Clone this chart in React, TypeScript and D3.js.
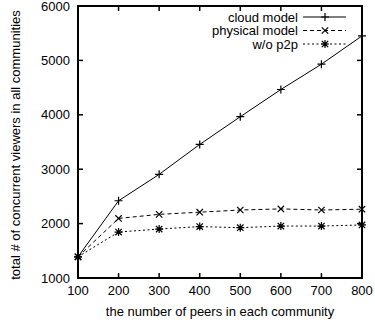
import React from "react";
import * as d3 from "d3";

const peers = [100, 200, 300, 400, 500, 600, 700, 800];
const cloudModel = [1390, 2420, 2905, 3455, 3965, 4465, 4930, 5450];
const physicalModel = [1390, 2095, 2170, 2210, 2250, 2270, 2250, 2265];
const withoutP2P = [1390, 1845, 1900, 1945, 1925, 1955, 1955, 1975];
const xTicks = [100, 200, 300, 400, 500, 600, 700, 800];
const yTicks = [1000, 2000, 3000, 4000, 5000, 6000];

const W = 375, H = 326;
const m = { left: 78, right: 13, top: 6, bottom: 48 };
const FONT = "'Liberation Sans', Arial, Helvetica, sans-serif";

type Marker = "plus" | "cross" | "star";

function markerPath(t: Marker, cx: number, cy: number, s = 4): string {
  const plus = `M${cx - s},${cy}H${cx + s}M${cx},${cy - s}V${cy + s}`;
  const cross = `M${cx - s * 0.8},${cy - s * 0.8}L${cx + s * 0.8},${cy + s * 0.8}M${cx - s * 0.8},${cy + s * 0.8}L${cx + s * 0.8},${cy - s * 0.8}`;
  if (t === "plus") return plus;
  if (t === "cross") return cross;
  return plus + cross;
}

export default function App() {
  const x = d3.scaleLinear().domain([100, 800]).range([m.left, W - m.right]);
  const y = d3.scaleLinear().domain([1000, 6000]).range([H - m.bottom, m.top]);
  const line = d3
    .line<[number, number]>()
    .x((d) => x(d[0]))
    .y((d) => y(d[1]));

  const series: { name: string; vals: number[]; dash: string | undefined; marker: Marker }[] = [
    { name: "cloud model", vals: cloudModel, dash: undefined, marker: "plus" },
    { name: "physical model", vals: physicalModel, dash: "4,3", marker: "cross" },
    { name: "w/o p2p", vals: withoutP2P, dash: "2,2.5", marker: "star" },
  ];

  const x0 = m.left, x1 = W - m.right, y0 = H - m.bottom, y1 = m.top;
  const tick = 5;

  return (
    <svg width={W} height={H} style={{ position: "absolute", left: 0, top: 0, background: "#fff" }} fontFamily={FONT}>
      <rect x={0} y={0} width={W} height={H} fill="#fff" />
      {/* ticks */}
      {xTicks.map((t) => (
        <g key={"xt" + t}>
          <line x1={x(t)} x2={x(t)} y1={y0} y2={y0 - tick} stroke="#000" strokeWidth={1.5} />
          <line x1={x(t)} x2={x(t)} y1={y1} y2={y1 + tick} stroke="#000" strokeWidth={1.5} />
          <text x={x(t)} y={y0 + 17} fontSize={13} textAnchor="middle" fill="#000">
            {t}
          </text>
        </g>
      ))}
      {yTicks.map((t) => (
        <g key={"yt" + t}>
          <line x1={x0} x2={x0 + tick} y1={y(t)} y2={y(t)} stroke="#000" strokeWidth={1.5} />
          <line x1={x1} x2={x1 - tick} y1={y(t)} y2={y(t)} stroke="#000" strokeWidth={1.5} />
          <text x={x0 - 8} y={y(t)} dy="0.35em" fontSize={13} textAnchor="end" fill="#000">
            {t}
          </text>
        </g>
      ))}
      {/* series */}
      {series.map((s) => {
        const pts = peers.map((p, i) => [p, s.vals[i]] as [number, number]);
        return (
          <g key={s.name}>
            <path d={line(pts) || ""} fill="none" stroke="#000" strokeWidth={1} strokeDasharray={s.dash} />
            {pts.map((p, i) => (
              <path key={i} d={markerPath(s.marker, x(p[0]), y(p[1]))} stroke="#000" strokeWidth={1.2} fill="none" />
            ))}
          </g>
        );
      })}
      {/* frame */}
      <rect x={x0} y={y1} width={x1 - x0} height={y0 - y1} fill="none" stroke="#000" strokeWidth={2} />
      {/* legend */}
      {series.map((s, i) => {
        const ly = 17 + i * 13.5;
        return (
          <g key={"lg" + s.name}>
            <text x={298} y={ly} dy="0.35em" fontSize={13} textAnchor="end" fill="#000">
              {s.name}
            </text>
            <line x1={303} x2={346} y1={ly} y2={ly} stroke="#000" strokeWidth={1} strokeDasharray={s.dash} />
            <path d={markerPath(s.marker, 325, ly)} stroke="#000" strokeWidth={1.2} fill="none" />
          </g>
        );
      })}
      {/* axis labels */}
      <text x={(x0 + x1) / 2} y={H - 10} fontSize={13} textAnchor="middle" fill="#000">
        the number of peers in each community
      </text>
      <text
        transform={`translate(15,${(y0 + y1) / 2 + 3}) rotate(-90)`}
        fontSize={13}
        textAnchor="middle"
        dy="0.35em"
        fill="#000"
      >
        total # of concurrent viewers in all communities
      </text>
    </svg>
  );
}
